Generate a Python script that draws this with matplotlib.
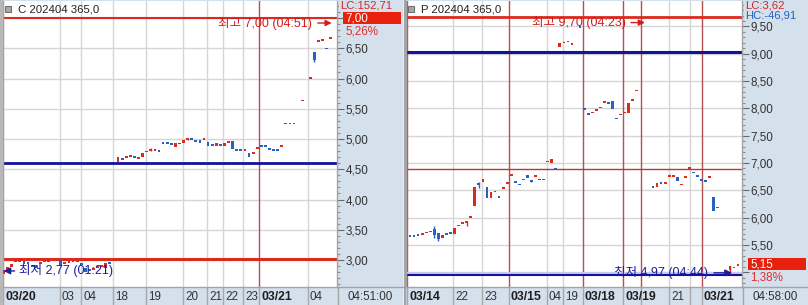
import numpy as np
import matplotlib
matplotlib.use('Agg')
import matplotlib.pyplot as plt
from matplotlib import font_manager
from matplotlib.transforms import blended_transform_factory, offset_copy
from matplotlib.lines import Line2D
from matplotlib.patches import Rectangle
from matplotlib.ticker import MultipleLocator, FuncFormatter

nan = np.nan

# ---- C 202404 365.0 (left chart), one bar per slot ----
c_open = [2.77, 2.84, 2.88, 2.97, 2.96, 2.98, 2.94, 2.90, 2.88, 2.93,
          2.97, 2.97, 2.98, 2.99, 3.00, 2.94, 2.95, 2.97, 2.97, 2.93,
          2.87, 2.83, 2.84, 2.87, 2.89, 2.87, 2.95, nan, 4.62, 4.67,
          4.69, 4.70, 4.71, 4.67, 4.70, 4.78, 4.81, 4.81, 4.80, 4.95,
          4.95, 4.91, 4.87, 4.92, 4.93, 4.98, 5.00, 4.96, 4.99, 4.98,
          4.95, 4.89, 4.88, 4.89, 4.88, 4.94, 4.97, 4.81, 4.81, 4.81,
          4.77, 4.76, 4.84, 4.90, 4.88, 4.83, 4.82, 4.82, 4.87, 5.24,
          5.24, 5.24, nan, 5.62, nan, 6.00, 6.43, 6.61, 6.62, 6.49,
          6.65]
c_close = [2.84, 2.88, 2.93, 2.96, 2.97, 2.94, 2.93, 2.88, 2.87, 2.95,
           2.98, 2.98, 2.99, 3.00, 2.90, 2.95, 2.98, 2.96, 2.96, 2.92,
           2.80, 2.82, 2.85, 2.88, 2.90, 2.95, 2.94, nan, 4.70, 4.66,
           4.70, 4.72, 4.69, 4.70, 4.77, 4.80, 4.83, 4.82, 4.79, 4.92,
           4.92, 4.90, 4.93, 4.91, 4.98, 5.00, 4.99, 4.95, 4.94, 4.99,
           4.88, 4.88, 4.93, 4.88, 4.93, 4.95, 4.83, 4.80, 4.80, 4.82,
           4.70, 4.77, 4.85, 4.87, 4.87, 4.82, 4.81, 4.81, 4.88, 5.25,
           5.25, 5.25, nan, 5.64, nan, 6.02, 6.30, 6.63, 6.63, 6.48,
           6.67]
c_wick_idx = [36, 45, 76]
c_wick_hi = [4.85, 5.02, nan]
c_wick_lo = [nan, nan, 6.28]
c_ticks = [-0.12, 13.8, 18.95, 26.8, 34.8, 43.9, 49.75, 53.7, 58.6, 62.5, 74.4]
c_tick_labels = ['03/20', '03', '04', '18', '19', '20', '21', '22', '23', '03/21', '04']
c_breaks = [62.5]
c_hlines = [7.00, 3.02, 4.60]
c_last, c_pct = 7.00, '5,26%'
c_info = ['LC:152,71']
c_hi_idx, c_hi_val, c_hi_time = 80.2, 7.00, '04:51'
c_lo_idx, c_lo_val, c_lo_time = 0.0, 2.77, '01:21'

# ---- P 202404 365.0 (right chart) ----
p_open = [5.66, 5.66, 5.67, 5.69, 5.71, 5.73, 5.80, 5.72, 5.62, 5.69,
          5.71, 5.70, 5.85, 5.89, 5.90, 6.00, 6.21, 6.63, 6.65, 6.56,
          6.36, 6.46, 6.37, 6.53, 6.62, 6.77, 6.64, 6.60, 6.68, 6.78,
          6.66, 6.75, 6.69, 6.68, 7.01, 7.00, 6.88, 9.13, 9.19, 9.21,
          9.16, nan, 9.48, 7.98, 7.89, 7.91, 7.96, 8.00, 8.10, 8.09,
          8.14, 7.82, 7.87, 7.91, 7.92, 8.14, 8.31, nan, nan, nan,
          6.55, 6.56, 6.63, 6.62, 6.74, 6.75, 6.74, 6.59, 6.72, 6.89,
          6.82, 6.75, 6.68, 6.66, 6.72, 6.38, 6.17, nan, nan, 5.04,
          5.08, 5.12]
p_close = [5.65, 5.65, 5.66, 5.70, 5.72, 5.74, 5.69, 5.61, 5.69, 5.68,
           5.70, 5.81, 5.84, 5.90, 5.94, 6.01, 6.56, 6.60, 6.71, 6.36,
           6.47, 6.47, 6.36, 6.54, 6.63, 6.78, 6.63, 6.59, 6.70, 6.72,
           6.65, 6.76, 6.68, 6.69, 7.02, 7.08, 6.87, 9.20, 9.20, 9.22,
           9.19, nan, 9.47, 7.97, 7.88, 7.92, 7.97, 8.01, 8.12, 8.08,
           7.99, 7.80, 7.88, 7.92, 8.10, 8.15, 8.32, nan, nan, nan,
           6.54, 6.63, 6.61, 6.64, 6.75, 6.78, 6.67, 6.60, 6.73, 6.90,
           6.81, 6.74, 6.67, 6.65, 6.73, 6.12, 6.18, nan, nan, 5.11,
           5.07, 5.15]
p_wick_idx = [6, 7, 14, 17, 30, 79]
p_wick_hi = [5.85, nan, nan, 6.66, 6.69, nan]
p_wick_lo = [5.63, 5.58, 5.85, 6.55, nan, 4.97]
p_ticks = [-0.74, 10.6, 17.8, 24.4, 33.8, 37.8, 42.7, 52.6, 57.0, 63.95, 69.1, 72.1]
p_tick_labels = ['03/14', '22', '23', '03/15', '04', '19', '03/18', '03/19', '', '21', '', '03/21']
p_breaks = [-0.74, 24.4, 42.7, 52.6, 57.0, 72.1]
p_hlines = [9.67, 9.03, 6.89, 4.99, 4.95]
p_last, p_pct = 5.15, '1,38%'
p_info = ['LC:3,62', 'HC:-46,91']
p_hi_idx, p_hi_val, p_hi_time = 58.0, 9.70, '04:23'
p_lo_idx, p_lo_val, p_lo_time = 79.5, 4.97, '04:44'

STRIP = '#d5e0ed'
EDGE = '#a4a4a4'
RED = '#dc2a1c'
BLUE = '#2562c2'
NAVY = '#12129a'
DAYRED = '#b45050'
TXT = '#333333'

names = {f.name for f in font_manager.fontManager.ttflist}
if 'Liberation Sans Narrow' in names:
    NARROW, fs = 'Liberation Sans Narrow', 1.0
else:
    NARROW, fs = 'Liberation Sans', 0.84
plt.rcParams['font.family'] = [NARROW, 'Noto Sans CJK KR', 'DejaVu Sans']

W, H = 808, 305
fig = plt.figure(figsize=(W / 100, H / 100), dpi=100, facecolor=STRIP)


def rect(x0, y0, x1, y1):
    return [x0 / W, 1 - y1 / H, (x1 - x0) / W, (y1 - y0) / H]


def kr(v, nd=2):
    return f'{v:.{nd}f}'.replace('.', ',')


def panel(ax, o, c, widx, whi, wlo, xlim, ylim, ticks, labels, breaks,
          hlines, hcolors, hwidths, title, last, pct, info, hi, lo, time_lbl):
    ax.set_facecolor('white')
    ax.set_xlim(*xlim)
    ax.set_ylim(*ylim)
    ppu = 286 / (ylim[1] - ylim[0])
    bx = blended_transform_factory(ax.transData, ax.transAxes)
    by = blended_transform_factory(ax.transAxes, ax.transData)

    # price scale: labels under the last-price box are covered, as on the screen
    def ylab(v, p):
        if abs(v - last) < 8 / ppu or abs(v - (last - 13 / ppu)) < 8 / ppu:
            return ''
        return kr(v)

    ax.yaxis.set_major_locator(MultipleLocator(0.5))
    ax.yaxis.set_minor_locator(MultipleLocator(0.1))
    ax.yaxis.set_major_formatter(FuncFormatter(ylab))
    ax.yaxis.tick_right()
    ax.tick_params(axis='y', which='major', length=5, width=0.8, color='#6a6a6a',
                   pad=1, labelsize=10 * fs, labelcolor=TXT)
    ax.tick_params(axis='y', which='minor', length=2.5, width=0.8, color='#8a8a8a')
    ax.set_xticks([])
    ax.grid(axis='y', which='major', color='#d6d6d6', lw=1, zorder=0)
    for x in ticks:
        if x in breaks:
            ax.axvline(x, color=DAYRED, lw=1, zorder=2)
        else:
            ax.axvline(x, color='#d6d6d6', lw=1, zorder=1)
    ax.spines['top'].set_visible(False)
    for s in ['left', 'right', 'bottom']:
        ax.spines[s].set_color(EDGE)
        ax.spines[s].set_linewidth(1)

    # horizontal reference lines
    for v, col, lw in zip(hlines, hcolors, hwidths):
        ax.axhline(v, color=col, lw=lw, zorder=2.5)

    # candles
    o = np.array(o, float)
    c = np.array(c, float)
    x = np.arange(len(o))
    ok = np.isfinite(o)
    top = np.fmax(o, c)
    bot = np.fmin(o, c)
    body = np.maximum(top - bot, 1.8 / ppu)
    col = np.where(c >= o, RED, BLUE)
    for i, wh, wl in zip(widx, whi, wlo):
        t = wh if np.isfinite(wh) else top[i]
        b = wl if np.isfinite(wl) else bot[i]
        ax.vlines(i, b, t, color=col[i], lw=1, zorder=3)
    ax.bar(x[ok], body[ok], bottom=bot[ok], width=0.68, color=col[ok],
           linewidth=0, zorder=4)

    # bottom time strip
    ax.vlines(ticks, -18 / 286, 0, transform=bx, colors='#a8a8a8', lw=1, clip_on=False)
    lbl_tr = offset_copy(bx, fig=fig, x=2, y=0, units='dots')
    for x0, lab in zip(ticks, labels):
        bold = '/' in lab
        ax.text(x0, -9.5 / 286, lab, transform=lbl_tr, ha='left', va='center',
                fontsize=(10.5 if bold else 10) * fs, fontweight='bold' if bold else 'normal',
                color='#1e1e1e' if bold else TXT, clip_on=False)
    ax.text(1.03, -9.5 / 286, time_lbl, transform=ax.transAxes, ha='left', va='center',
            fontsize=10 * fs, color=TXT)

    # title
    ax.plot(0.016, 0.972, marker='s', ms=4, mfc='#a8a8a8', mec='#707070', mew=0.8,
            transform=ax.transAxes, clip_on=False, zorder=6)
    ax.text(0.045, 0.972, title, transform=ax.transAxes, ha='left', va='center',
            fontsize=9.8 * fs, color='#222222')

    # high / low markers
    (hx, hv, ht, hdy), (lx, lv, lt, ldy, lside) = hi, lo
    tr = offset_copy(ax.transData, fig=fig, x=0, y=hdy, units='dots')
    ax.annotate(f'최고 {kr(hv)} ({ht})', xy=(hx, hv), xycoords=tr, xytext=(-14, 0),
                textcoords='offset points', ha='right', va='center', fontsize=9,
                color='#d21c1c', zorder=7,
                arrowprops=dict(arrowstyle='-|>', color='#d21c1c', lw=1, mutation_scale=9,
                                shrinkA=2, shrinkB=0, relpos=(1, 0.5)))
    tr = offset_copy(ax.transData, fig=fig, x=0, y=ldy, units='dots')
    if lside == 'left':
        ax.annotate(f'최저 {kr(lv)} ({lt})', xy=(lx, lv), xycoords=tr, xytext=(11, 0),
                    textcoords='offset points', ha='left', va='center', fontsize=9,
                    color='#1c1ca0', zorder=7,
                    arrowprops=dict(arrowstyle='-|>', color='#1c1ca0', lw=1, mutation_scale=10,
                                    shrinkA=1, shrinkB=0, relpos=(0, 0.5)))
    else:
        ax.annotate(f'최저 {kr(lv)} ({lt})', xy=(lx, lv), xycoords=tr, xytext=(-17, 0),
                    textcoords='offset points', ha='right', va='center', fontsize=9,
                    color='#1c1ca0', zorder=7,
                    arrowprops=dict(arrowstyle='-|>', color='#1c1ca0', lw=1, mutation_scale=10,
                                    shrinkA=2, shrinkB=0, relpos=(1, 0.5)))

    # last price box and info in the price strip
    bw = 58 / (ax.get_position().width * W)
    ax.add_patch(Rectangle((1.018, last - 6 / ppu), bw, 12 / ppu, transform=by,
                           fc='#e8200e', ec='none', clip_on=False, zorder=6))
    ax.text(1.024, last, kr(last), transform=by, ha='left', va='center',
            fontsize=10 * fs, color='white', clip_on=False, zorder=7)
    ax.text(1.024, last - 13 / ppu, pct, transform=by, ha='left', va='center',
            fontsize=10 * fs, color='#e03030', clip_on=False, zorder=7,
            bbox=dict(fc=STRIP, ec='none', pad=0.3))
    for k, s in enumerate(info):
        ax.text(1.008, 1 - (4.5 + 10.5 * k) / 286, s, transform=ax.transAxes, ha='left',
                va='center', fontsize=9.6 * fs, color='#d02828' if k == 0 else '#2060c0',
                clip_on=False, zorder=5, bbox=dict(fc=STRIP, ec='none', pad=0.2))


ax1 = fig.add_axes(rect(3, 1, 337, 287))
ax2 = fig.add_axes(rect(406, 1, 742, 287))

panel(ax1, c_open, c_close, c_wick_idx, c_wick_hi, c_wick_lo,
      (-0.12, 81.5), (2.554, 7.281), c_ticks, c_tick_labels, c_breaks,
      c_hlines, [RED, RED, NAVY], [1.5, 2.2, 2.0], 'C 202404 365,0',
      c_last, c_pct, c_info,
      (c_hi_idx, c_hi_val, c_hi_time, -5), (c_lo_idx, c_lo_val, c_lo_time, 3, 'left'),
      '04:51:00')
panel(ax2, p_open, p_close, p_wick_idx, p_wick_hi, p_wick_lo,
      (-0.99, 81.98), (4.729, 9.967), p_ticks, p_tick_labels, p_breaks,
      p_hlines, [RED, NAVY, '#c03434', '#c8c8f0', NAVY], [2.0, 2.2, 1.0, 1.5, 1.5],
      'P 202404 365,0', p_last, p_pct, p_info,
      (p_hi_idx, p_hi_val, p_hi_time, -7), (p_lo_idx, p_lo_val, p_lo_time, 1, 'right'),
      '04:58:00')

# frame lines of the strips
fig.add_artist(Rectangle((0, 0), 3 / W, 1, transform=fig.transFigure, fc='#b8b8b8', ec='none'))
fig.add_artist(Rectangle((403 / W, 0), 3 / W, 1, transform=fig.transFigure, fc='white', ec='none'))
for xa in [403.5, 405.5]:
    fig.add_artist(Line2D([xa / W] * 2, [0, 1], color=EDGE, lw=1))
for xa in [337.5, 742.5]:
    fig.add_artist(Line2D([xa / W] * 2, [0, 18 / H], color=EDGE, lw=1))
fig.add_artist(Line2D([337 / W, 403 / W], [18.5 / H] * 2, color=EDGE, lw=1))
fig.add_artist(Line2D([742 / W, 1], [18.5 / H] * 2, color=EDGE, lw=1))

fig.savefig('out.png', dpi=100, facecolor=STRIP)
